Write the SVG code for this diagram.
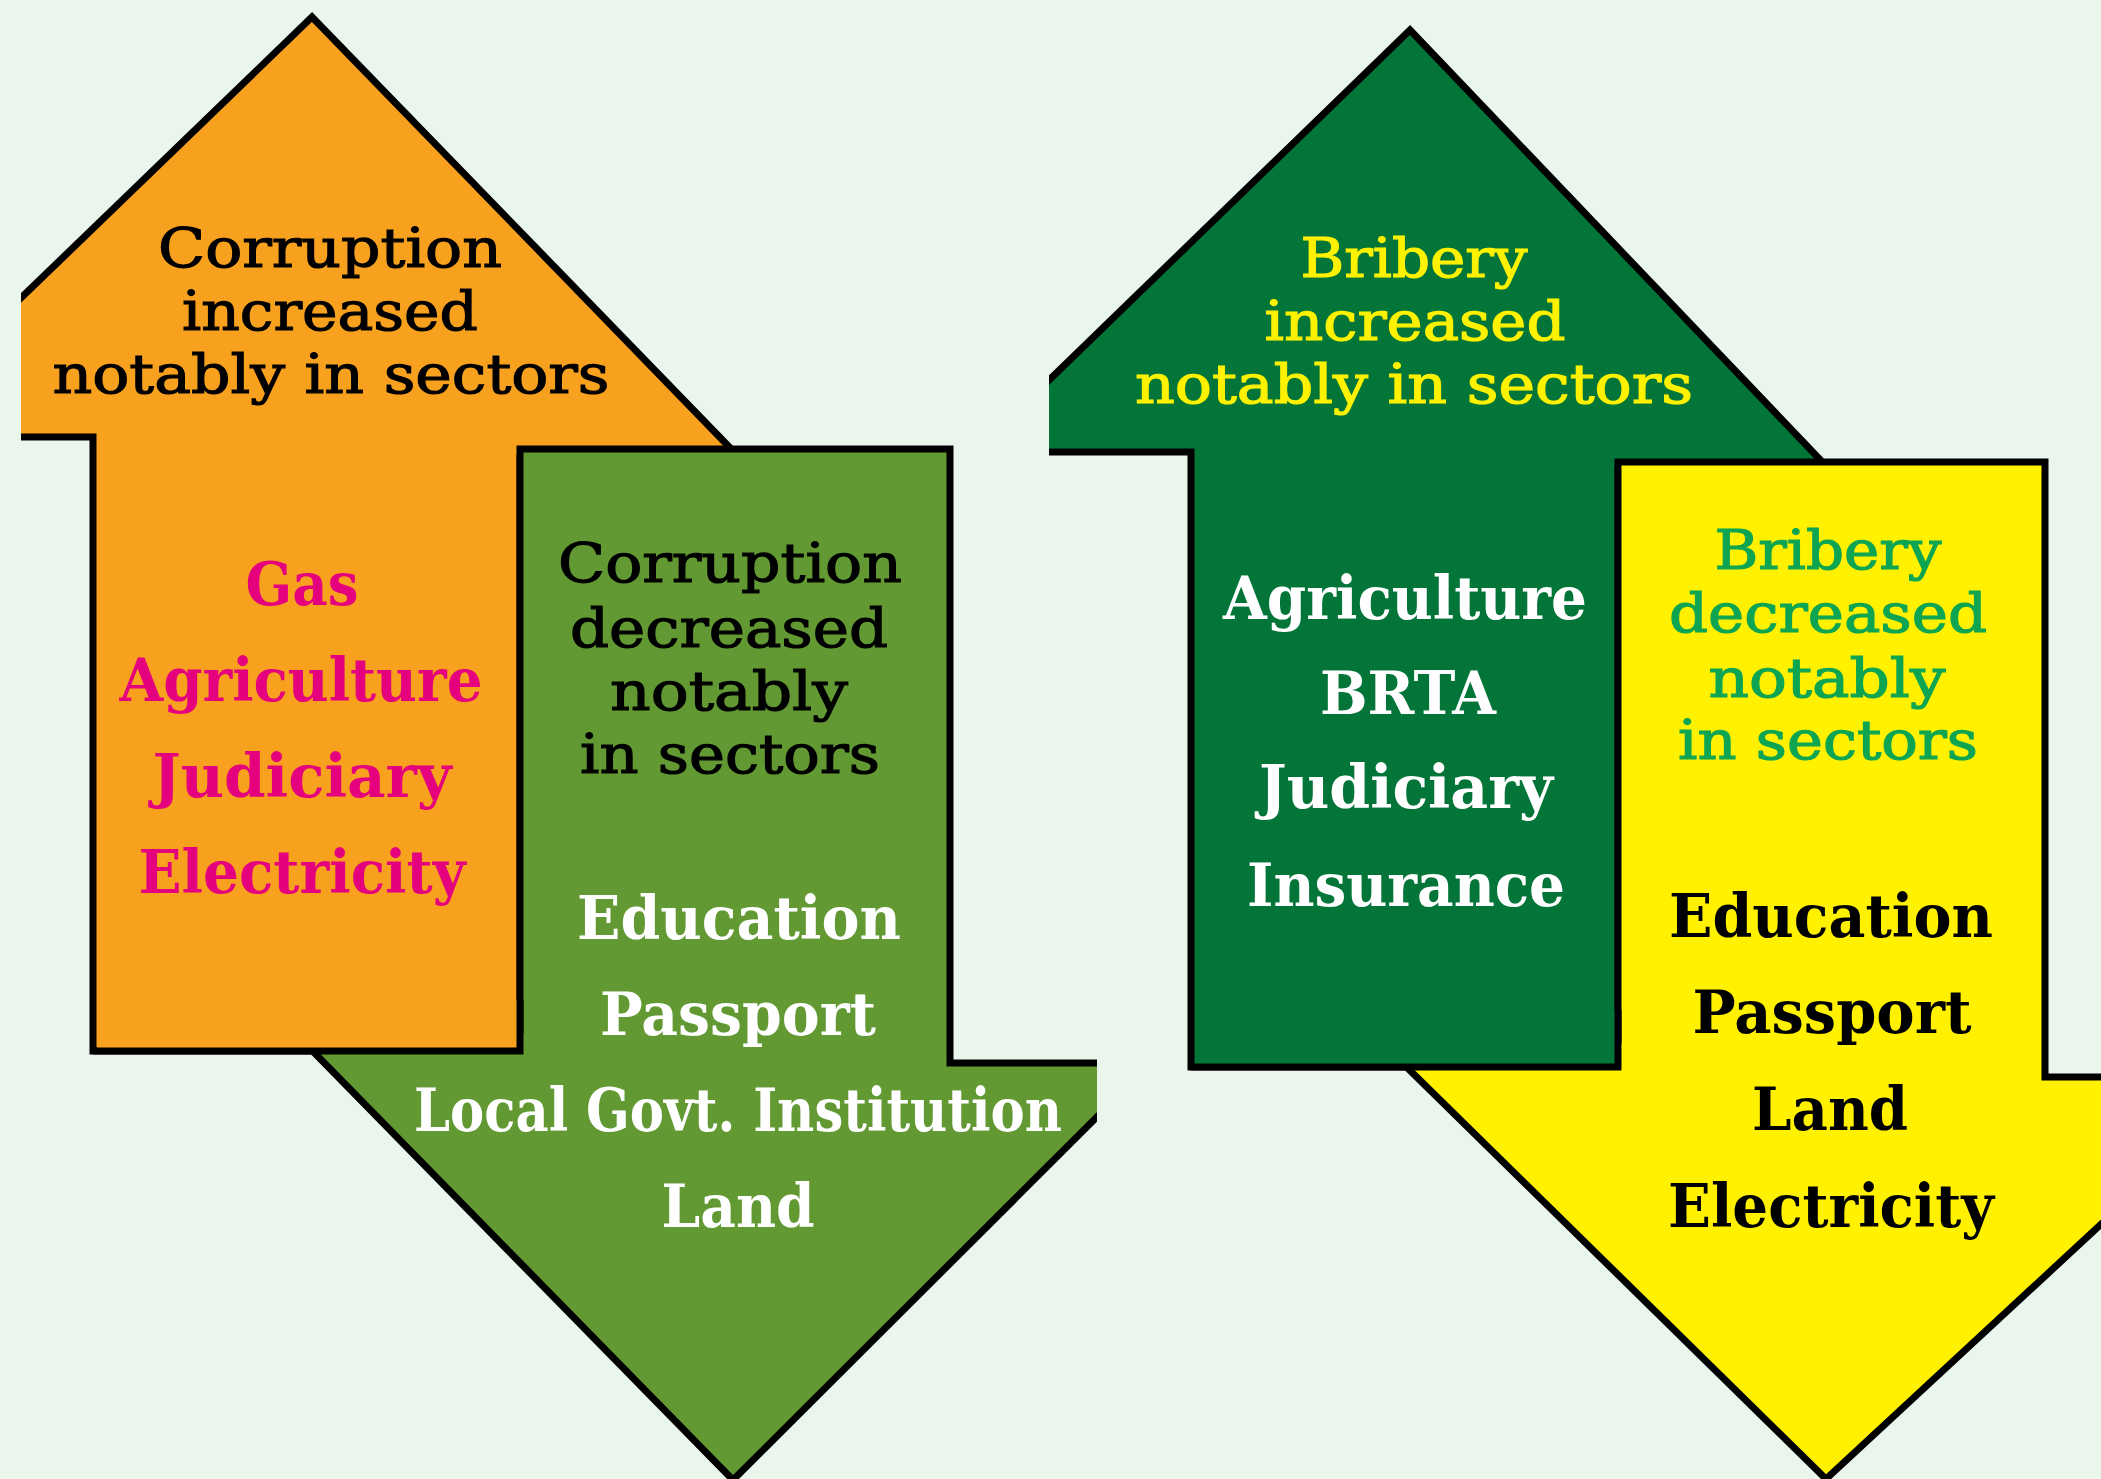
<svg xmlns="http://www.w3.org/2000/svg" width="2101" height="1479" viewBox="0 0 2101 1479">
  <style>
    .shape { stroke: #000; stroke-width: 7; stroke-linejoin: miter; }
    .edge { fill: none; stroke: #000; stroke-width: 7; stroke-linejoin: miter; }
    .orange { fill: #F8A11E; }
    .leaf { fill: #629933; }
    .forest { fill: #037539; }
    .lemon { fill: #FFF100; }
    .head { font-family: "DejaVu Serif", "Liberation Serif", serif; font-size: 55px; text-anchor: middle; stroke-width: 1.2px; }
    .item { font-family: "DejaVu Serif", "Liberation Serif", serif; font-weight: bold; font-size: 60px; text-anchor: middle; }
  </style>
  <defs>
    <clipPath id="clip-from-21"><rect x="21" y="0" width="2080" height="1479"/></clipPath>
    <clipPath id="clip-to-1097"><rect x="0" y="0" width="1097" height="1479"/></clipPath>
    <clipPath id="clip-from-1049"><rect x="1049" y="0" width="1052" height="1479"/></clipPath>
  </defs>

  <rect width="2101" height="1479" fill="#EAF5EC"/>

  <!-- Corruption increased: orange up arrow -->
  <g id="corruption-increased">
    <polygon class="shape orange" clip-path="url(#clip-from-21)"
      points="312,17 740,458 520,458 520,1051 93,1051 93,437 -123,437"/>
    <g class="head" fill="#000" stroke="#000">
      <text x="330" y="267" textLength="344" lengthAdjust="spacingAndGlyphs">Corruption</text>
      <text x="330" y="330" textLength="296" lengthAdjust="spacingAndGlyphs">increased</text>
      <text x="331" y="393" textLength="557" lengthAdjust="spacingAndGlyphs">notably in sectors</text>
    </g>
    <g class="item" fill="#E5007E">
      <text x="302" y="605" textLength="113" lengthAdjust="spacingAndGlyphs">Gas</text>
      <text x="301" y="701" textLength="363" lengthAdjust="spacingAndGlyphs">Agriculture</text>
      <text x="302" y="797" textLength="299" lengthAdjust="spacingAndGlyphs">Judiciary</text>
      <text x="302" y="893" textLength="327" lengthAdjust="spacingAndGlyphs">Electricity</text>
    </g>
  </g>

  <!-- Corruption decreased: green down arrow -->
  <g id="corruption-decreased">
    <polygon class="shape leaf" clip-path="url(#clip-to-1097)"
      points="520,449 950,449 950,1063 1151,1063 733,1480 292,1030 520,1030"/>
    <g class="head" fill="#000" stroke="#000">
      <text x="730" y="582" textLength="344" lengthAdjust="spacingAndGlyphs">Corruption</text>
      <text x="729" y="647" textLength="318" lengthAdjust="spacingAndGlyphs">decreased</text>
      <text x="729" y="710" textLength="238" lengthAdjust="spacingAndGlyphs">notably</text>
      <text x="730" y="773" textLength="300" lengthAdjust="spacingAndGlyphs">in sectors</text>
    </g>
    <g class="item" fill="#FFFFFF">
      <text x="739" y="939" textLength="324" lengthAdjust="spacingAndGlyphs">Education</text>
      <text x="738" y="1035" textLength="276" lengthAdjust="spacingAndGlyphs">Passport</text>
      <text x="738" y="1131" textLength="648" lengthAdjust="spacingAndGlyphs">Local Govt. Institution</text>
      <text x="738" y="1227" textLength="153" lengthAdjust="spacingAndGlyphs">Land</text>
    </g>
  </g>

  <!-- foot of the orange shaft, lying over the green arrowhead -->
  <g id="corruption-increased-foot">
    <rect class="orange" x="97" y="1000" width="423" height="48"/>
    <path class="edge" d="M520,1000 V1051 H93"/>
  </g>

  <!-- Bribery increased: dark green up arrow -->
  <g id="bribery-increased">
    <polygon class="shape forest" clip-path="url(#clip-from-1049)"
      points="1410,30 1830,470 1618,470 1618,1067 1191,1067 1191,452 975,452"/>
    <g class="head" fill="#FFF200" stroke="#FFF200">
      <text x="1414" y="277" textLength="227" lengthAdjust="spacingAndGlyphs">Bribery</text>
      <text x="1415" y="340" textLength="301" lengthAdjust="spacingAndGlyphs">increased</text>
      <text x="1414" y="403" textLength="558" lengthAdjust="spacingAndGlyphs">notably in sectors</text>
    </g>
    <g class="item" fill="#FFFFFF">
      <text x="1405" y="619" textLength="364" lengthAdjust="spacingAndGlyphs">Agriculture</text>
      <text x="1408" y="714" textLength="176" lengthAdjust="spacingAndGlyphs">BRTA</text>
      <text x="1406" y="808" textLength="294" lengthAdjust="spacingAndGlyphs">Judiciary</text>
      <text x="1406" y="906" textLength="318" lengthAdjust="spacingAndGlyphs">Insurance</text>
    </g>
  </g>

  <!-- Bribery decreased: yellow down arrow -->
  <g id="bribery-decreased">
    <polygon class="shape lemon"
      points="1618,462 2045,462 2045,1077 2260,1077 1826,1479 1379,1040 1618,1040"/>
    <g class="head" fill="#0DA552" stroke="#0DA552">
      <text x="1828" y="569" textLength="227" lengthAdjust="spacingAndGlyphs">Bribery</text>
      <text x="1828" y="632" textLength="318" lengthAdjust="spacingAndGlyphs">decreased</text>
      <text x="1827" y="697" textLength="237" lengthAdjust="spacingAndGlyphs">notably</text>
      <text x="1828" y="759" textLength="300" lengthAdjust="spacingAndGlyphs">in sectors</text>
    </g>
    <g class="item" fill="#000">
      <text x="1831" y="937" textLength="324" lengthAdjust="spacingAndGlyphs">Education</text>
      <text x="1832" y="1033" textLength="279" lengthAdjust="spacingAndGlyphs">Passport</text>
      <text x="1830" y="1130" textLength="156" lengthAdjust="spacingAndGlyphs">Land</text>
      <text x="1831" y="1227" textLength="326" lengthAdjust="spacingAndGlyphs">Electricity</text>
    </g>
  </g>

  <!-- foot of the dark green shaft, lying over the yellow arrowhead -->
  <g id="bribery-increased-foot">
    <rect class="forest" x="1195" y="1010" width="423" height="54"/>
    <path class="edge" d="M1618,1010 V1067 H1191"/>
  </g>
</svg>
